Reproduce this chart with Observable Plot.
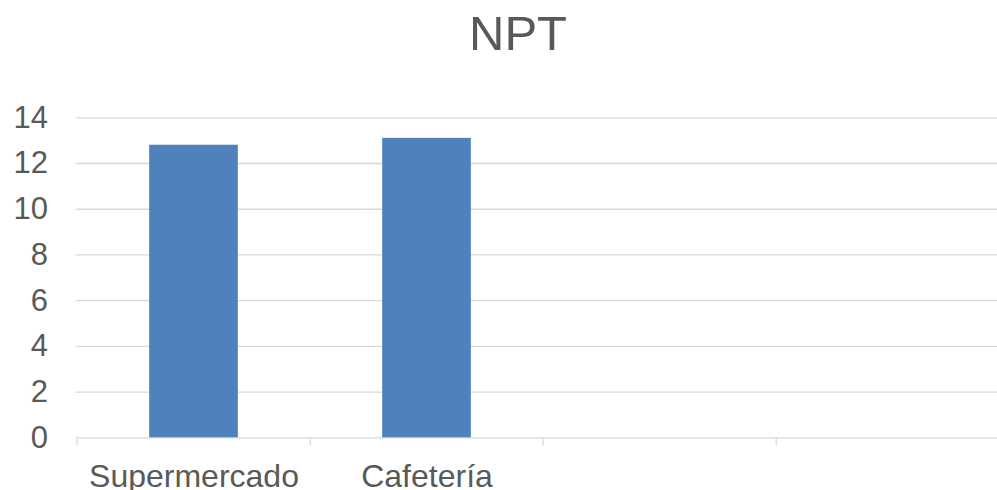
<!DOCTYPE html>
<html>
<head>
<meta charset="utf-8">
<script src="https://cdn.jsdelivr.net/npm/d3@7"></script>
<script src="https://cdn.jsdelivr.net/npm/@observablehq/plot@0.6"></script>
<style>
  html, body { margin: 0; padding: 0; background: #fff; }
  #chart svg { display: block; overflow: hidden; }
</style>
</head>
<body>
<div id="chart"></div>
<script>
const title = "NPT";
const categories = ["Supermercado", "Cafetería", "cat3", "cat4"];
const tickLabels = ["Supermercado", "Cafetería", "", ""];
const values = [12.8, 13.1, null, null];
const yTicks = [0, 2, 4, 6, 8, 10, 12, 14];

const data = categories.map((c, i) => ({category: c, value: values[i]})).filter(d => d.value != null);

const W = 997, H = 490;
const left = 75.5, rightEnd = 1010;
const step = (rightEnd - left) / categories.length;
const barWidth = 89.3;
const inset = (step - barWidth) / 2;
const textColor = "#595959";
const gridColor = "#d9d9d9";
const font = "'Liberation Sans', Arial, sans-serif";

const chart = Plot.plot({
  width: W,
  height: H,
  marginLeft: left,
  marginRight: 0,
  marginTop: 117.3,
  marginBottom: 52.7,
  style: {fontFamily: font, color: textColor, background: "#fff"},
  x: {type: "band", domain: categories, range: [left, rightEnd], padding: 0},
  y: {domain: [0, 14]},
  marks: [
    Plot.gridY(yTicks, {stroke: gridColor, strokeOpacity: 1, strokeWidth: 1.3}),
    Plot.ruleX(categories, {x: d => d, y1: 0, y2: 0, insetBottom: -8, dx: -step / 2, stroke: gridColor, strokeWidth: 1.3}),
    Plot.barY(data, {x: "category", y: "value", fill: "#4f81bd", insetLeft: inset, insetRight: inset}),
    Plot.axisY(yTicks, {tickSize: 0, tickPadding: 28, fontSize: 31, fill: textColor, label: null}),
    Plot.axisX(categories, {tickSize: 0, tickPadding: 26, fontSize: 32, fill: textColor, label: null,
      tickFormat: d => tickLabels[categories.indexOf(d)]})
  ]
});

d3.select(chart).append("text")
  .attr("x", 518)
  .attr("y", 50)
  .attr("text-anchor", "middle")
  .attr("font-size", 49)
  .attr("font-family", font)
  .attr("fill", textColor)
  .text(title);

document.getElementById("chart").append(chart);
</script>
</body>
</html>
